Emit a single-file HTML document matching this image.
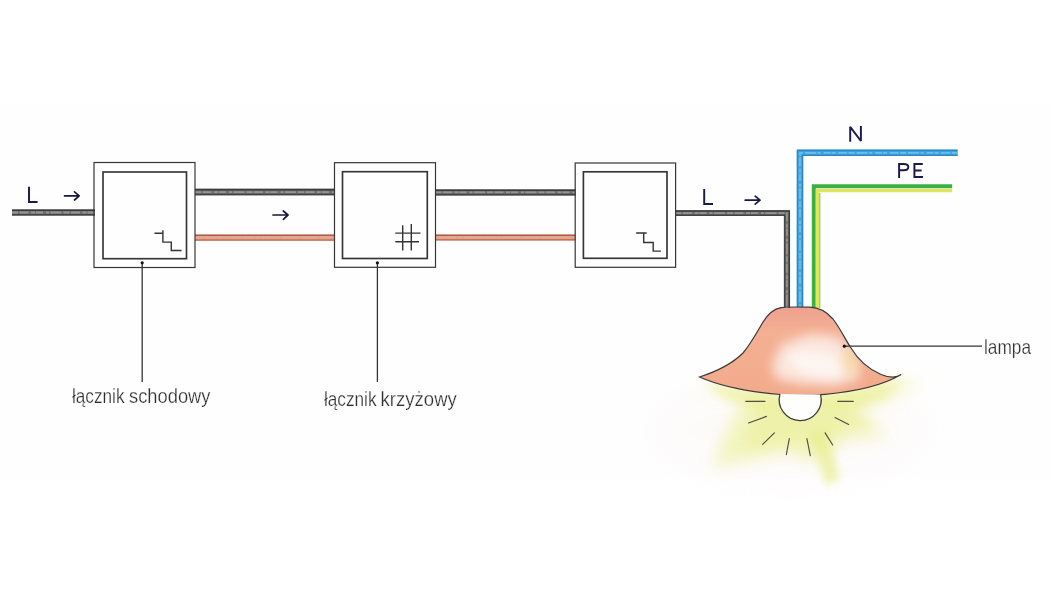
<!DOCTYPE html>
<html><head><meta charset="utf-8">
<style>
html,body{margin:0;padding:0;background:#ffffff;width:1050px;height:590px;overflow:hidden}
svg{display:block}
text{font-family:"Liberation Sans",sans-serif}
</style></head><body>
<svg width="1050" height="590" viewBox="0 0 1050 590">
<defs>
<filter id="blur8" x="-50%" y="-50%" width="200%" height="200%"><feGaussianBlur stdDeviation="8"/></filter>
<filter id="blur12" x="-50%" y="-50%" width="200%" height="200%"><feGaussianBlur stdDeviation="12"/></filter>
<filter id="blur5" x="-50%" y="-50%" width="200%" height="200%"><feGaussianBlur stdDeviation="5"/></filter>
<filter id="blur6" x="-50%" y="-50%" width="200%" height="200%"><feGaussianBlur stdDeviation="6"/></filter>
<filter id="blur4" x="-50%" y="-50%" width="200%" height="200%"><feGaussianBlur stdDeviation="4"/></filter>
</defs>
<rect width="1050" height="590" fill="#ffffff"/>
<rect x="0" y="103.5" width="1050" height="375.5" fill="#fefefe"/>


<!-- glow -->
<g id="glow">
<ellipse cx="790" cy="430" rx="140" ry="55" fill="#fbeeee" opacity="0.2" filter="url(#blur12)"/>
<polygon points="690,384 745,398 726,432 712,468 786,452 812,462 850,438 888,436 858,412 928,380 870,390 800,398 740,390" fill="#f1f4b8" opacity="0.9" filter="url(#blur8)"/>
<polygon points="705,386 755,404 748,430 745,450 792,444 812,446 850,428 875,425 848,410 912,380 860,392 800,398 740,392" fill="#eaef94" opacity="0.45" filter="url(#blur6)"/>
<polygon points="808,432 826,428 840,478 826,486" fill="#e8ee90" opacity="0.7" filter="url(#blur4)"/>
<polygon points="704,380 780,394 820,394 902,378 885,398 830,412 775,412 725,400" fill="#ecf098" opacity="0.5" filter="url(#blur5)"/>
</g>
<!-- wires N and PE -->
<path d="M957.6 152.8 H800 V308" fill="none" stroke="#3ea3da" stroke-width="6.4"/>
<path d="M957.6 150.3 H797.4 V308 M957.6 155.4 H802.6 V308" fill="none" stroke="#2a88c8" stroke-width="1.2"/>
<path d="M957.6 152.8 H800 V308" fill="none" stroke="#6dbde8" stroke-width="1.8" stroke-dasharray="6 1.5 9 2.5 4 1 7 3 3 1.5 11 2"/>
<path d="M952.2 186.2 H813.8 V308" fill="none" stroke="#3cb043" stroke-width="4"/>
<path d="M952.2 190.6 H817.4 V308" fill="none" stroke="#dfe65a" stroke-width="3.4"/>
<path d="M819.8 193 V308" fill="none" stroke="#6cc050" stroke-width="1"/>

<!-- lamp -->
<g id="lamp">
<clipPath id="domeclip"><path d="M699.5 377 C718 371 734 362 743 353 C750 345 756 334 763 322 C768 314 773 309 781 307.6 C785 307.2 790 307 795 307 L810 307.2 C818 307.5 826 311 833 319 C840 328 845 339 851 348 C857 358 866 368 881 374.5 C886 376.5 890 377.2 893 377.1 C896 377 899 376 901.2 374.6 C886 383.5 864 391 825 394.3 C812 395.2 790 395.2 780 394.5 C750 392 720 386 699.5 377 Z"/></clipPath>
<linearGradient id="domegrad" x1="0" y1="0" x2="0" y2="1">
<stop offset="0" stop-color="#eea08f"/>
<stop offset="0.3" stop-color="#f4b093"/>
<stop offset="1" stop-color="#f2aa8b"/>
</linearGradient>
<path d="M699.5 377 C718 371 734 362 743 353 C750 345 756 334 763 322 C768 314 773 309 781 307.6 C785 307.2 790 307 795 307 L810 307.2 C818 307.5 826 311 833 319 C840 328 845 339 851 348 C857 358 866 368 881 374.5 C886 376.5 890 377.2 893 377.1 C896 377 899 376 901.2 374.6 C886 383.5 864 391 825 394.3 C812 395.2 790 395.2 780 394.5 C750 392 720 386 699.5 377 Z" fill="url(#domegrad)"/>
<g clip-path="url(#domeclip)">
<polygon points="772,364 782,344 810,334 838,337 851,349 860,378 835,386 800,384 776,379" fill="#fdf5f2" filter="url(#blur6)" opacity="0.8"/>
<ellipse cx="818" cy="364" rx="30" ry="12" transform="rotate(12 818 364)" fill="#fefaf8" filter="url(#blur4)" opacity="0.7"/>
<ellipse cx="850" cy="362" rx="9" ry="16" fill="#f6d8a8" filter="url(#blur4)" opacity="0.7"/>
</g>
<path d="M699.5 377 C718 371 734 362 743 353 C750 345 756 334 763 322 C768 314 773 309 781 307.6 C785 307.2 790 307 795 307 L810 307.2 C818 307.5 826 311 833 319 C840 328 845 339 851 348 C857 358 866 368 881 374.5 C886 376.5 890 377.2 893 377.1 C896 377 899 376 901.2 374.6 C886 383.5 864 391 825 394.3 C812 395.2 790 395.2 780 394.5 C750 392 720 386 699.5 377 Z" fill="none" stroke="#3a3a3a" stroke-width="1.2"/>
<path d="M780 394 A21 21 0 1 0 820.6 394.6" fill="#fefefc" stroke="#3a3a3a" stroke-width="1.25"/>
</g>
<g stroke="#4e4e44" stroke-width="1.15" fill="none" stroke-linecap="round">
<path d="M745.8 401.3 H765 M837.7 401.3 H853.3 M748.6 423 L766.4 416.4 M835 417.5 L848.7 424.4 M762.7 444.3 L774.4 432.9 M825.1 432.9 L832.7 445 M786.3 454.6 L789.3 438.6 M806.9 438.6 L810.3 455.7"/>
</g>

<!-- gray wires -->
<g id="graywires">
<rect x="12" y="209.4" width="83" height="6.199999999999989" fill="#6e6e6e"/>
<line x1="12" y1="210.20000000000002" x2="95" y2="210.20000000000002" stroke="#3c3c3c" stroke-width="1.6"/>
<line x1="12" y1="214.79999999999998" x2="95" y2="214.79999999999998" stroke="#444" stroke-width="1.6"/>
<line x1="12" y1="212.5" x2="95" y2="212.5" stroke="#959595" stroke-width="1.8" stroke-dasharray="6 1.5 9 2.5 4 1 7 3 3 1.5 11 2"/>
<rect x="195" y="188.8" width="140" height="6.5" fill="#6e6e6e"/>
<line x1="195" y1="189.60000000000002" x2="335" y2="189.60000000000002" stroke="#3c3c3c" stroke-width="1.6"/>
<line x1="195" y1="194.5" x2="335" y2="194.5" stroke="#444" stroke-width="1.6"/>
<line x1="195" y1="192.05" x2="335" y2="192.05" stroke="#959595" stroke-width="1.8" stroke-dasharray="6 1.5 9 2.5 4 1 7 3 3 1.5 11 2"/>
<rect x="435.5" y="189.4" width="140.0" height="6.0" fill="#6e6e6e"/>
<line x1="435.5" y1="190.20000000000002" x2="575.5" y2="190.20000000000002" stroke="#3c3c3c" stroke-width="1.6"/>
<line x1="435.5" y1="194.6" x2="575.5" y2="194.6" stroke="#444" stroke-width="1.6"/>
<line x1="435.5" y1="192.4" x2="575.5" y2="192.4" stroke="#959595" stroke-width="1.8" stroke-dasharray="6 1.5 9 2.5 4 1 7 3 3 1.5 11 2"/>
<path d="M675.5 213.1 H786.9 V308" fill="none" stroke="#6e6e6e" stroke-width="5.8"/>
<path d="M675.5 210.9 H789.3 V308" fill="none" stroke="#3c3c3c" stroke-width="1.5"/>
<path d="M675.5 215.3 H784.6 V308" fill="none" stroke="#444" stroke-width="1.5"/>
<path d="M675.5 213.1 H786.9 V308" fill="none" stroke="#959595" stroke-width="1.6" stroke-dasharray="6 1.5 9 2.5 4 1 7 3 3 1.5 11 2"/>
</g>

<!-- red wires -->
<g id="redwires">
<rect x="195" y="234.6" width="140" height="6.099999999999994" fill="#e4a28a"/>
<line x1="195" y1="235.29999999999998" x2="335" y2="235.29999999999998" stroke="#a8624e" stroke-width="1.4"/>
<line x1="195" y1="240.0" x2="335" y2="240.0" stroke="#bf7560" stroke-width="1.4"/>
<line x1="195" y1="237.64999999999998" x2="335" y2="237.64999999999998" stroke="#eaa890" stroke-width="1.6" stroke-dasharray="8 2 11 1.5 4 2 9 1"/>
<rect x="435.5" y="234.6" width="140.0" height="5.900000000000006" fill="#e4a28a"/>
<line x1="435.5" y1="235.29999999999998" x2="575.5" y2="235.29999999999998" stroke="#a8624e" stroke-width="1.4"/>
<line x1="435.5" y1="239.8" x2="575.5" y2="239.8" stroke="#bf7560" stroke-width="1.4"/>
<line x1="435.5" y1="237.55" x2="575.5" y2="237.55" stroke="#eaa890" stroke-width="1.6" stroke-dasharray="8 2 11 1.5 4 2 9 1"/>
</g>

<!-- boxes -->
<g fill="none" stroke="#363636">
<rect x="94" y="162.5" width="101" height="105" stroke-width="1.2"/>
<rect x="103" y="172" width="83.5" height="86.7" stroke-width="1.65" stroke="#343434"/>
<rect x="334.5" y="162.7" width="101" height="104.6" stroke-width="1.2"/>
<rect x="342.5" y="171.7" width="84.8" height="86.8" stroke-width="1.65" stroke="#343434"/>
<rect x="575.2" y="163" width="100.4" height="104.3" stroke-width="1.2"/>
<rect x="583.4" y="171.8" width="83.6" height="86.5" stroke-width="1.65" stroke="#343434"/>
</g>

<!-- symbols -->
<g fill="none" stroke="#333" stroke-width="1.4">
<path d="M154.5 233.3 H162.9 M162.9 230.3 V242.1 H171.3 V250.5 H181.6"/>
<path d="M636.1 233 H646.7 M643.7 233 V242.5 H653.2 V251.1 H660.9"/>
<path d="M402.7 225.3 V250.5 M411.3 224 V250.5 M395.3 233.1 H420.5 M395.3 241.8 H419"/>
</g>

<!-- leaders -->
<g stroke="#333" stroke-width="1.3" fill="#111">
<line x1="142.2" y1="263" x2="142.2" y2="382"/>
<circle cx="142.2" cy="262.8" r="1.6" stroke="none"/>
<line x1="377.4" y1="263" x2="377.4" y2="382"/>
<circle cx="377.4" cy="262.8" r="1.6" stroke="none"/>
<line x1="844.3" y1="346.2" x2="982" y2="346.2"/>
<circle cx="844.3" cy="346.2" r="1.6" stroke="none"/>
</g>


<g stroke="#18183e" stroke-width="1.7" fill="none" stroke-linecap="round" stroke-linejoin="round">
<path d="M64.5 195.8 H79.2 M74.5 191.8 L79.2 195.8 L74.5 200"/>
<path d="M273 215 H288 M283.3 211 L288 215 L283.3 219.3"/>
<path d="M745.2 200.2 H760 M755.2 196.2 L760 200.2 L755.2 204.2"/>
</g>

<!-- labels -->
<g fill="none" stroke="#1b1a4a" stroke-width="1.95" stroke-linejoin="miter" stroke-linecap="butt">
<path d="M29 186.8 V202.05 H37.6"/>
<path d="M704.2 188.9 V204.05 H713"/>
<path d="M850.2 141.8 V126.8 L860.9 141 V125.9" stroke-linejoin="bevel"/>
<path d="M899.1 178 V163.9 H903.6 C907 163.9 908.3 165.6 908.3 167.1 C908.3 168.6 907 170.3 903.6 170.3 H899.1"/>
<path d="M922.8 163.9 H914.4 V176.95 H923 M914.4 170.4 H921.6"/>
</g>
<g fill="#2c2c2c" font-size="20" stroke="#fefefe" stroke-width="0.25" opacity="0.99">
<text x="72" y="403.4" textLength="52.5" lengthAdjust="spacingAndGlyphs">łącznik</text>
<text x="129" y="403.4" textLength="81.5" lengthAdjust="spacingAndGlyphs">schodowy</text>
<text x="324" y="406" textLength="52.5" lengthAdjust="spacingAndGlyphs">łącznik</text>
<text x="380.6" y="406" textLength="76.2" lengthAdjust="spacingAndGlyphs">krzyżowy</text>
<text x="984" y="353.6" font-size="21" textLength="47" lengthAdjust="spacingAndGlyphs">lampa</text>
</g>
</svg>
</body></html>
